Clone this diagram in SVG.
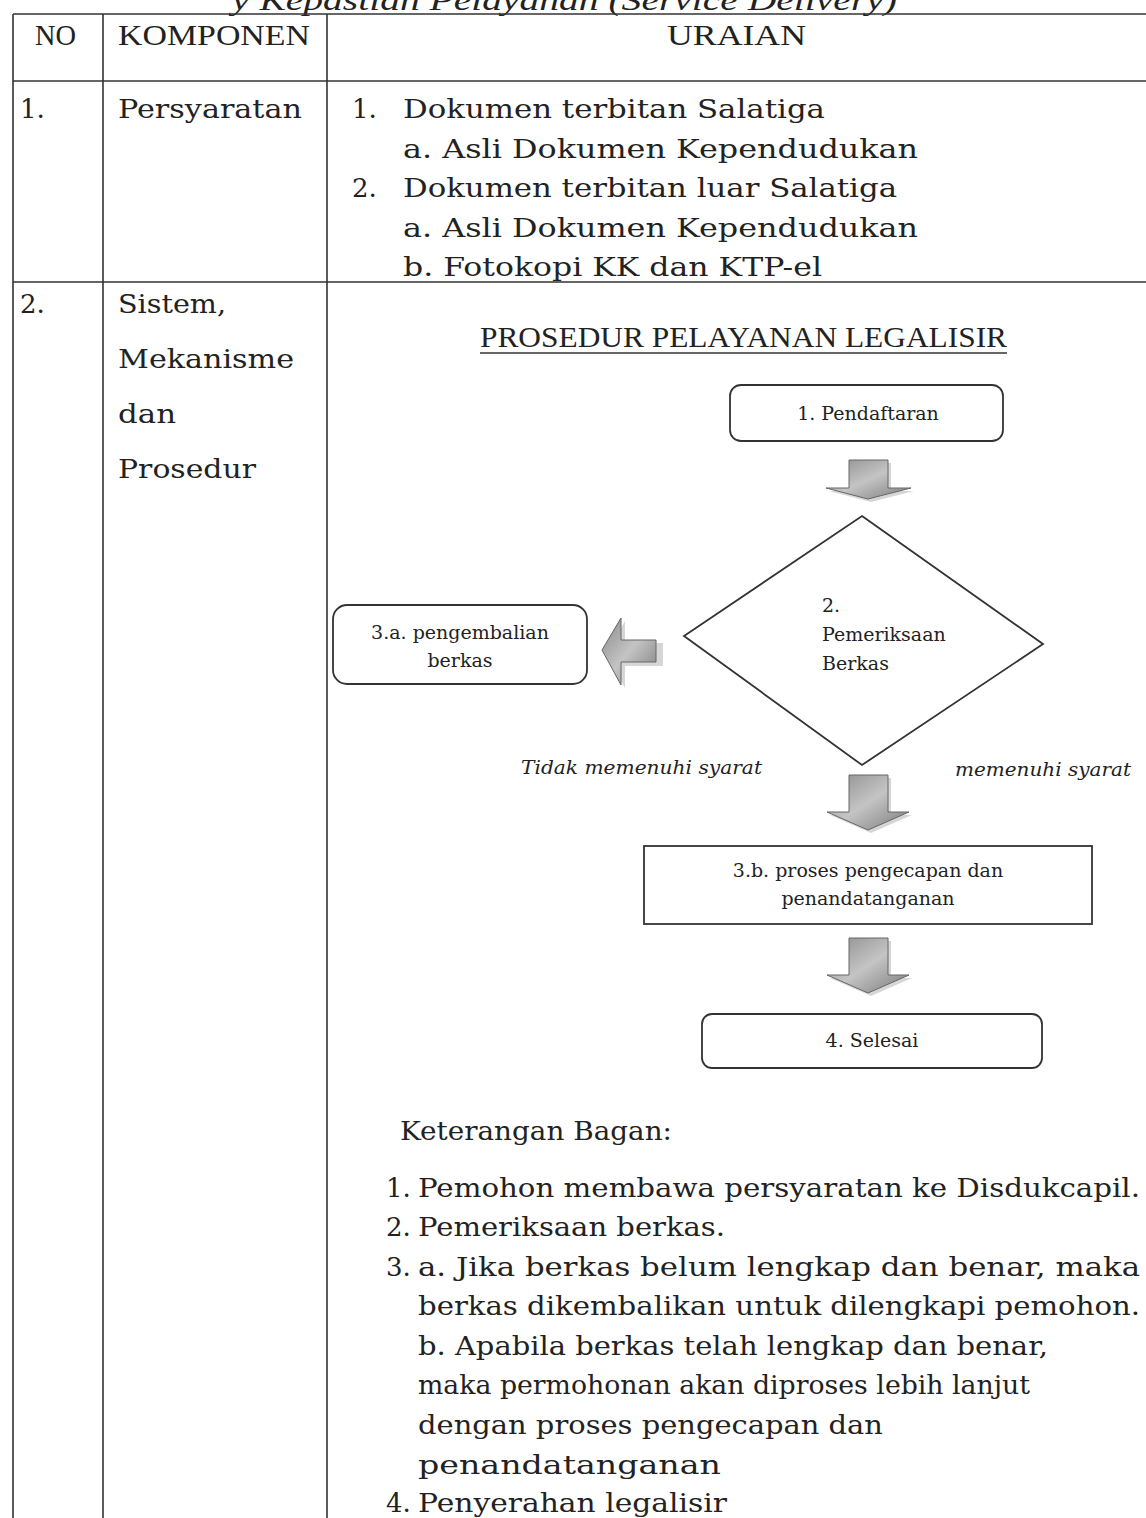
<svg xmlns="http://www.w3.org/2000/svg" width="1146" height="1518" viewBox="0 0 1146 1518">
<style>
.grid{stroke:#333;stroke-width:1.6;fill:none}
.hdr{font-family:"Liberation Serif",serif;font-size:30px;fill:#222}
.body{font-family:"DejaVu Serif","Liberation Serif",serif;font-size:26px;fill:#222}
.fl{font-family:"DejaVu Serif","Liberation Serif",serif;font-size:19px;fill:#222}
.it{font-family:"DejaVu Serif","Liberation Serif",serif;font-size:18px;font-style:italic;fill:#222}
.box{fill:#fff;stroke:#333;stroke-width:1.8}
.arr{fill:url(#g);stroke:#666;stroke-width:1}
.sh{fill:#bbb;opacity:0.6}
</style>
<defs>
<linearGradient id="g" x1="0" y1="0" x2="1" y2="1">
<stop offset="0" stop-color="#8a8a8a"/>
<stop offset="0.5" stop-color="#c4c4c4"/>
<stop offset="1" stop-color="#7a7a7a"/>
</linearGradient>
</defs>
<rect width="1146" height="1518" fill="#fff"/>
<text class="hdr" x="232" y="10" font-style="italic" textLength="665" lengthAdjust="spacingAndGlyphs">y Kepastian Pelayanan (Service Delivery)</text>
<g id="table">
<line class="grid" x1="13" y1="14" x2="1146" y2="14"/>
<line class="grid" x1="13" y1="81" x2="1146" y2="81"/>
<line class="grid" x1="13" y1="282" x2="1146" y2="282"/>
<line class="grid" x1="13" y1="14" x2="13" y2="1518"/>
<line class="grid" x1="103" y1="14" x2="103" y2="1518"/>
<line class="grid" x1="327" y1="14" x2="327" y2="1518"/>
<text class="hdr" x="35" y="45" textLength="41" lengthAdjust="spacingAndGlyphs">NO</text>
<text class="hdr" x="118" y="45" textLength="192" lengthAdjust="spacingAndGlyphs">KOMPONEN</text>
<text class="hdr" x="667" y="45" textLength="139" lengthAdjust="spacingAndGlyphs">URAIAN</text>
<text class="body" x="20" y="118">1.</text>
<text class="body" x="118" y="118" textLength="184" lengthAdjust="spacingAndGlyphs">Persyaratan</text>
<text class="body" x="352" y="118">1.</text>
<text class="body" x="403" y="118" textLength="422" lengthAdjust="spacingAndGlyphs">Dokumen terbitan Salatiga</text>
<text class="body" x="403" y="158" textLength="515" lengthAdjust="spacingAndGlyphs">a. Asli Dokumen Kependudukan</text>
<text class="body" x="352" y="197">2.</text>
<text class="body" x="403" y="197" textLength="494" lengthAdjust="spacingAndGlyphs">Dokumen terbitan luar Salatiga</text>
<text class="body" x="403" y="237" textLength="515" lengthAdjust="spacingAndGlyphs">a. Asli Dokumen Kependudukan</text>
<text class="body" x="403" y="276" textLength="419" lengthAdjust="spacingAndGlyphs">b. Fotokopi KK dan KTP-el</text>
<text class="body" x="20" y="313">2.</text>
<text class="body" x="118" y="313" textLength="108" lengthAdjust="spacingAndGlyphs">Sistem,</text>
<text class="body" x="118" y="368" textLength="176" lengthAdjust="spacingAndGlyphs">Mekanisme</text>
<text class="body" x="118" y="423" textLength="58" lengthAdjust="spacingAndGlyphs">dan</text>
<text class="body" x="118" y="478" textLength="138" lengthAdjust="spacingAndGlyphs">Prosedur</text>
</g>
<text class="hdr" x="480" y="347" textLength="527" lengthAdjust="spacingAndGlyphs">PROSEDUR PELAYANAN LEGALISIR</text>
<line x1="480" y1="353" x2="1007" y2="353" stroke="#333" stroke-width="1.6"/>
<g id="connectors">
<g id="arrow1">
<path class="sh" d="M852,463 H891 V491 H914 L871,502 L829,491 H852 Z"/>
<path class="arr" d="M849,460 H888 V488 H911 L868,499 L826,488 H849 Z"/>
</g>
<g id="arrow2">
<path class="sh" d="M625,621 L605,653 L625,688 V666 H663 V643 H625 Z"/>
<path class="arr" d="M621,618 L602,650 L621,685 V662 H656 V640 H621 Z"/>
</g>
<g id="arrow3">
<path class="sh" d="M852,778 H891 V815 H912 L871,833 L830,815 H852 Z"/>
<path class="arr" d="M849,775 H888 V812 H909 L868,830 L827,812 H849 Z"/>
</g>
<g id="arrow4">
<path class="sh" d="M852,941 H891 V978 H912 L871,996 L830,978 H852 Z"/>
<path class="arr" d="M849,938 H888 V975 H909 L868,993 L827,975 H849 Z"/>
</g>
</g>
<g id="node1">
<rect class="box" x="730" y="385" width="273" height="56" rx="11"/>
<text class="fl" x="868" y="420" text-anchor="middle">1.  Pendaftaran</text>
</g>
<g id="node2">
<polygon class="box" points="862,516 1043,644 862,765 684,636"/>
<text class="fl" x="822" y="612">2.</text>
<text class="fl" x="822" y="641">Pemeriksaan</text>
<text class="fl" x="822" y="670">Berkas</text>
</g>
<g id="node3a">
<rect class="box" x="333" y="605" width="254" height="79" rx="14"/>
<text class="fl" x="460" y="639" text-anchor="middle">3.a. pengembalian</text>
<text class="fl" x="460" y="667" text-anchor="middle">berkas</text>
</g>
<text class="it" x="521" y="774" textLength="241" lengthAdjust="spacingAndGlyphs">Tidak memenuhi syarat</text>
<text class="it" x="955" y="776" textLength="176" lengthAdjust="spacingAndGlyphs">memenuhi syarat</text>
<g id="node3b">
<rect class="box" x="644" y="846" width="448" height="78"/>
<text class="fl" x="868" y="877" text-anchor="middle">3.b. proses pengecapan dan</text>
<text class="fl" x="868" y="905" text-anchor="middle">penandatanganan</text>
</g>
<g id="node4">
<rect class="box" x="702" y="1014" width="340" height="54" rx="10"/>
<text class="fl" x="872" y="1047" text-anchor="middle">4. Selesai</text>
</g>
<g id="keterangan">
<text class="body" x="400" y="1140" textLength="272" lengthAdjust="spacingAndGlyphs">Keterangan Bagan:</text>
<text class="body" x="386" y="1197">1.</text>
<text class="body" x="418" y="1197" textLength="722" lengthAdjust="spacingAndGlyphs">Pemohon membawa persyaratan ke Disdukcapil.</text>
<text class="body" x="386" y="1236">2.</text>
<text class="body" x="418" y="1236" textLength="307" lengthAdjust="spacingAndGlyphs">Pemeriksaan berkas.</text>
<text class="body" x="386" y="1276">3.</text>
<text class="body" x="418" y="1276" textLength="722" lengthAdjust="spacingAndGlyphs">a. Jika berkas belum lengkap dan benar, maka</text>
<text class="body" x="418" y="1315" textLength="722" lengthAdjust="spacingAndGlyphs">berkas dikembalikan untuk dilengkapi pemohon.</text>
<text class="body" x="418" y="1355" textLength="630" lengthAdjust="spacingAndGlyphs">b. Apabila berkas telah lengkap dan benar,</text>
<text class="body" x="418" y="1394" textLength="612" lengthAdjust="spacingAndGlyphs">maka permohonan akan diproses lebih lanjut</text>
<text class="body" x="418" y="1434" textLength="465" lengthAdjust="spacingAndGlyphs">dengan proses pengecapan dan</text>
<text class="body" x="418" y="1474" textLength="303" lengthAdjust="spacingAndGlyphs">penandatanganan</text>
<text class="body" x="386" y="1512">4.</text>
<text class="body" x="418" y="1512" textLength="309" lengthAdjust="spacingAndGlyphs">Penyerahan legalisir</text>
</g>
</svg>
